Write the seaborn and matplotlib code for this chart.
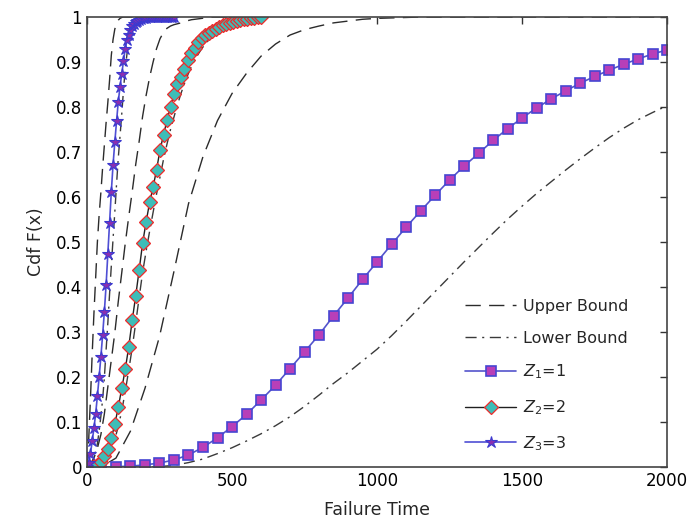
import numpy as np
import pandas as pd
import matplotlib
matplotlib.use('Agg')
import matplotlib.pyplot as plt
import seaborn as sns

# failure times (grids) for the three cases
t1 = list(range(0, 2001, 50))
t2 = list(range(0, 601, 12))
t3 = list(range(0, 301, 6))

# Z1 = 1
z1 = [0, 0.0, 0.001, 0.002, 0.005, 0.009, 0.016, 0.027, 0.044, 0.065,
      0.090, 0.117, 0.149, 0.182, 0.219, 0.256, 0.294, 0.336, 0.376, 0.417,
      0.456, 0.495, 0.533, 0.569, 0.604, 0.638, 0.669, 0.697, 0.726, 0.752,
      0.776, 0.798, 0.818, 0.836, 0.853, 0.868, 0.882, 0.895, 0.907, 0.918, 0.927]
z1_up = [0, 0.001, 0.02, 0.08, 0.175, 0.29, 0.435, 0.585, 0.69, 0.77,
         0.83, 0.875, 0.913, 0.94, 0.96, 0.972, 0.98, 0.987, 0.991, 0.995,
         0.997, 0.998, 0.999] + [1.0] * 18
z1_lo = [0, 0, 0, 0, 0, 0.001, 0.004, 0.01, 0.018, 0.03,
         0.043, 0.058, 0.074, 0.092, 0.112, 0.135, 0.16, 0.186, 0.21, 0.236,
         0.262, 0.292, 0.324, 0.357, 0.39, 0.423, 0.456, 0.488, 0.52, 0.551,
         0.58, 0.608, 0.634, 0.66, 0.685, 0.709, 0.732, 0.753, 0.772, 0.788, 0.803]

# Z2 = 2
z2 = [0, 0.0, 0.002, 0.005, 0.012, 0.025, 0.041, 0.064, 0.095, 0.133,
      0.175, 0.217, 0.267, 0.326, 0.38, 0.438, 0.498, 0.545, 0.588, 0.622,
      0.661, 0.705, 0.738, 0.771, 0.8, 0.828, 0.851, 0.867, 0.884, 0.904,
      0.919, 0.932, 0.944, 0.953, 0.96, 0.965, 0.969, 0.973, 0.978, 0.982,
      0.984, 0.987, 0.99, 0.992, 0.994, 0.995, 0.996, 0.997, 0.998, 0.999, 1.0]
z2_up = [0, 0.005, 0.02, 0.042, 0.072, 0.118, 0.178, 0.238, 0.298, 0.368,
         0.432, 0.497, 0.556, 0.612, 0.672, 0.724, 0.78, 0.826, 0.866, 0.9,
         0.93, 0.952, 0.966, 0.975, 0.98, 0.983, 0.985, 0.987, 0.99, 0.992,
         0.994, 0.995, 0.996, 0.997, 0.998, 0.999] + [1.0] * 15
z2_lo = [0, 0, 0.0, 0.002, 0.006, 0.013, 0.024, 0.04, 0.062, 0.09,
         0.125, 0.168, 0.215, 0.265, 0.32, 0.377, 0.433, 0.48, 0.524, 0.566,
         0.607, 0.645, 0.684, 0.718, 0.75, 0.778, 0.805, 0.83, 0.852, 0.872,
         0.89, 0.905, 0.918, 0.93, 0.94, 0.949, 0.957, 0.964, 0.97, 0.975,
         0.979, 0.983, 0.986, 0.989, 0.991, 0.993, 0.995, 0.996, 0.997, 0.998, 0.999]

# Z3 = 3
z3 = [0, 0.01, 0.03, 0.057, 0.086, 0.118, 0.158, 0.2, 0.245, 0.293,
      0.345, 0.404, 0.474, 0.543, 0.612, 0.672, 0.722, 0.768, 0.812, 0.845,
      0.874, 0.902, 0.93, 0.948, 0.961, 0.971, 0.979, 0.985, 0.989, 0.992,
      0.994, 0.996, 0.997, 0.998, 0.998, 0.999, 0.999] + [1.0] * 14
z3_up = [0, 0.06, 0.15, 0.25, 0.34, 0.42, 0.5, 0.56, 0.61, 0.665,
         0.715, 0.765, 0.81, 0.86, 0.915, 0.95, 0.973, 0.986, 0.993, 0.997,
         0.999] + [1.0] * 30
z3_lo = [0, 0.0, 0.005, 0.012, 0.022, 0.035, 0.052, 0.08, 0.113, 0.15,
         0.198, 0.26, 0.32, 0.385, 0.447, 0.507, 0.566, 0.628, 0.687, 0.735,
         0.785, 0.838, 0.885, 0.918, 0.942, 0.958, 0.97, 0.979, 0.986, 0.99,
         0.993, 0.995, 0.997, 0.998, 0.999] + [1.0] * 16

xticks = [0, 500, 1000, 1500, 2000]
yticks = [0, 0.1, 0.2, 0.3, 0.4, 0.5, 0.6, 0.7, 0.8, 0.9, 1]

sns.set_style('white')
plt.rcParams['font.family'] = ['DejaVu Sans']

fig = plt.figure(figsize=(6.9, 5.32), dpi=100)
ax = fig.add_axes([0.126, 0.122, 0.841, 0.846])

up_style = dict(color='#2b2b2b', linewidth=1.0, linestyle=(0, (11, 6)))
lo_style = dict(color='#3a3a3a', linewidth=1.0, linestyle=(0, (8, 4, 1.5, 4)))

# bounds
sns.lineplot(x=t1, y=z1_up, ax=ax, label='Upper Bound', **up_style)
sns.lineplot(x=t1, y=z1_lo, ax=ax, label='Lower Bound', **lo_style)
sns.lineplot(x=t2, y=z2_up, ax=ax, **up_style)
sns.lineplot(x=t2, y=z2_lo, ax=ax, **lo_style)
sns.lineplot(x=t3, y=z3_up, ax=ax, **up_style)
sns.lineplot(x=t3, y=z3_lo, ax=ax, **lo_style)

# estimated cdfs
sns.lineplot(x=t1, y=z1, ax=ax, color='#5454cc', linewidth=1.2,
             marker='s', markersize=7.5, markerfacecolor='#b83fb8',
             markeredgecolor='#4646d2', markeredgewidth=1.2, label='$Z_1$=1')
sns.lineplot(x=t2, y=z2, ax=ax, color='#202020', linewidth=1.0,
             marker='D', markersize=7, markerfacecolor='#3dbdb8',
             markeredgecolor='#ee2a2a', markeredgewidth=0.9, label='$Z_2$=2')
sns.lineplot(x=t3, y=z3, ax=ax, color='#4f4fd4', linewidth=1.2,
             marker='*', markersize=9, markerfacecolor='#8a2fb0',
             markeredgecolor='#3a3ad0', markeredgewidth=0.8, label='$Z_3$=3')

ax.set_xlim(0, 2000)
ax.set_ylim(0, 1)
ax.set_xticks(xticks)
ax.set_yticks(yticks)
ax.set_yticklabels([f'{v:g}' for v in yticks])
ax.tick_params(direction='in', top=True, right=True, length=5, width=1,
               labelsize=12, color='#333333', labelcolor='black')
for s in ax.spines.values():
    s.set_color('#444444')
    s.set_linewidth(1.2)

ax.set_xlabel('Failure Time', fontsize=12.5, labelpad=8)
ax.set_ylabel('Cdf F(x)', fontsize=12.5, labelpad=8)

h, l = ax.get_legend_handles_labels()
ax.legend(h, l, loc='lower right', bbox_to_anchor=(0.957, 0.0), frameon=False,
          fontsize=11.5, labelspacing=1.06, handlelength=3.2, handletextpad=0.4)

fig.savefig('out.png', dpi=100)
